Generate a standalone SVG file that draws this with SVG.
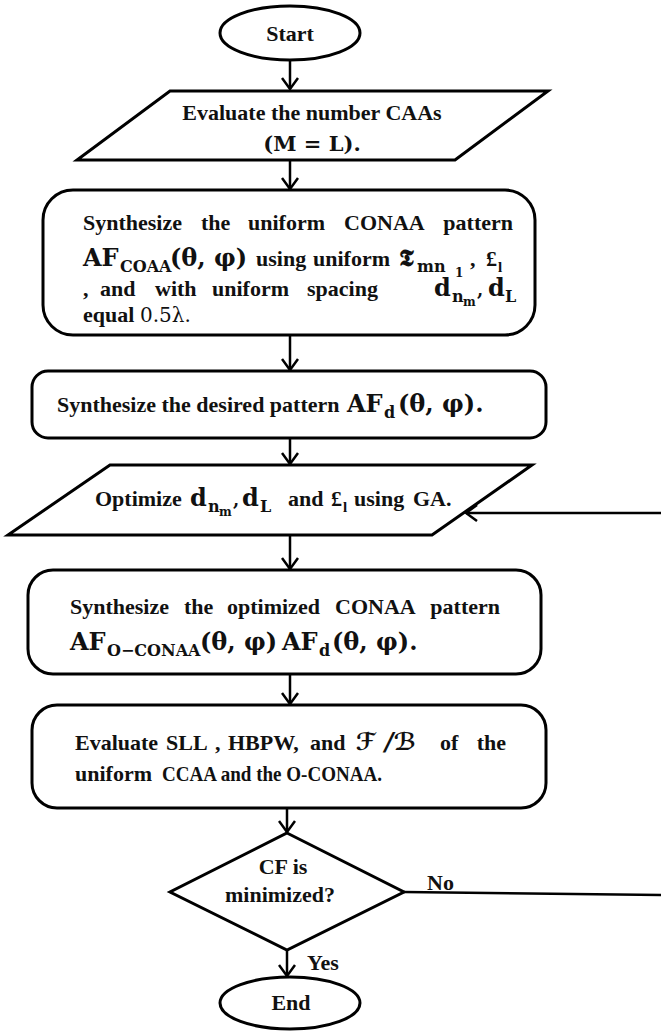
<svg xmlns="http://www.w3.org/2000/svg" width="661" height="1031" viewBox="0 0 661 1031">
<defs>
<style>
.shape{fill:#fff;stroke:#000;stroke-width:3}
.conn{fill:none;stroke:#000;stroke-width:2.5}
.t{font-family:"Liberation Serif",serif;font-weight:bold;font-size:22px;fill:#111}
.m{font-family:"DejaVu Serif","Liberation Serif",serif;font-weight:bold;font-size:24px;fill:#111}
.s{font-size:16px}
.ss{font-size:12px}
.r{font-weight:normal}
.sc{font-family:"DejaVu Sans",sans-serif;font-weight:bold;font-style:italic;font-size:24px;fill:#111}
</style>
<marker id="ah" viewBox="0 0 14 18" refX="12" refY="9" markerWidth="14" markerHeight="18" markerUnits="userSpaceOnUse" orient="auto">
<path d="M1,1 L12,9 L1,17" fill="none" stroke="#000" stroke-width="2.5"/>
</marker>
</defs>

<g id="start">
<ellipse class="shape" cx="290" cy="33" rx="70" ry="27"/>
<text class="t" x="290" y="41" text-anchor="middle">Start</text>
</g>

<g id="eval-number">
<polygon class="shape" points="170,91 548,91 455,160 77,160"/>
<text class="t" x="312" y="120" text-anchor="middle">Evaluate  the number CAAs</text>
<text class="m" x="312" y="151" text-anchor="middle" style="font-size:21px">(M = L).</text>
</g>

<g id="synth-uniform">
<rect class="shape" x="43" y="190" width="492" height="145" rx="30"/>
<text class="t" y="230"><tspan x="83">Synthesize</tspan><tspan x="201">the</tspan><tspan x="248">uniform</tspan><tspan x="344">CONAA</tspan><tspan x="513" text-anchor="end">pattern</tspan></text>
<text class="m" y="266"><tspan x="83">AF</tspan><tspan class="s" x="120" y="272">COAA</tspan><tspan x="170" y="266">(θ, φ)</tspan></text>
<text class="t" y="266"><tspan x="256">using</tspan><tspan x="313">uniform</tspan></text>
<text class="m" y="266"><tspan x="399">𝕿</tspan><tspan class="s" x="417" y="272">mn</tspan></text>
<text class="m ss" x="455" y="277">1</text>
<text class="t" y="266"><tspan x="470">,</tspan><tspan x="486">£</tspan><tspan x="498" y="272" style="font-size:15px">l</tspan></text>
<text class="t" y="296"><tspan x="83">,</tspan><tspan x="100">and</tspan><tspan x="155">with</tspan><tspan x="212">uniform</tspan><tspan x="307">spacing</tspan></text>
<text class="m" y="296"><tspan x="434">d</tspan><tspan class="s" x="452" y="302">n</tspan><tspan class="ss" x="463" y="306">m</tspan><tspan x="477" y="296" style="font-size:18px">,</tspan><tspan x="488" y="296">d</tspan><tspan class="s" x="505" y="302">L</tspan></text>
<text class="t" y="322"><tspan x="83">equal</tspan><tspan class="r" x="140" style="font-family:'DejaVu Serif',serif;font-size:20px">0.5λ.</tspan></text>
</g>

<g id="synth-desired">
<rect class="shape" x="32" y="371" width="514" height="67" rx="16"/>
<text class="t" x="57" y="412">Synthesize the desired pattern</text>
<text class="m" y="412"><tspan x="347">AF</tspan><tspan class="s" x="384" y="418">d</tspan><tspan x="398" y="412">(θ, φ).</tspan></text>
</g>

<g id="optimize">
<polygon class="shape" points="110,465 532,465 432,535 8,535"/>
<text class="t" x="95" y="506">Optimize</text>
<text class="m" y="506"><tspan x="190">d</tspan><tspan class="s" x="208" y="512">n</tspan><tspan class="ss" x="219" y="516">m</tspan><tspan x="233" y="506" style="font-size:18px">,</tspan><tspan x="242" y="506">d</tspan><tspan class="s" x="260" y="512">L</tspan></text>
<text class="t" y="506"><tspan x="288">and</tspan><tspan x="331">£</tspan><tspan x="343" y="512" style="font-size:15px">l</tspan><tspan x="354" y="506">using</tspan><tspan x="413">GA.</tspan></text>
</g>

<g id="synth-optimized">
<rect class="shape" x="28" y="570" width="513" height="104" rx="25"/>
<text class="t" y="614"><tspan x="70">Synthesize</tspan><tspan x="184">the</tspan><tspan x="227">optimized</tspan><tspan x="335">CONAA</tspan><tspan x="500" text-anchor="end">pattern</tspan></text>
<text class="m" y="650"><tspan x="70">AF</tspan><tspan class="s" x="107" y="656">O−CONAA</tspan><tspan x="200" y="650">(θ, φ)</tspan><tspan x="282">AF</tspan><tspan class="s" x="319" y="656">d</tspan><tspan x="332" y="650">(θ, φ).</tspan></text>
</g>

<g id="evaluate-sll">
<rect class="shape" x="32" y="705" width="514" height="103" rx="25"/>
<text class="t" y="750"><tspan x="75">Evaluate</tspan><tspan x="166">SLL</tspan><tspan x="215">,</tspan><tspan x="228">HBPW,</tspan><tspan x="310">and</tspan><tspan x="440">of</tspan><tspan x="506" text-anchor="end">the</tspan></text>
<text class="sc" y="750"><tspan x="356">ℱ</tspan><tspan x="385">/ℬ</tspan></text>
<text class="t" y="781"><tspan x="75">uniform</tspan><tspan x="162" textLength="220" lengthAdjust="spacingAndGlyphs">CCAA and the O-CONAA.</tspan></text>
</g>

<g id="decision">
<polygon class="shape" points="287,833 404,892 287,950 170,892"/>
<text class="t" x="283" y="874" text-anchor="middle">CF is</text>
<text class="t" x="280" y="902" text-anchor="middle">minimized?</text>
</g>

<g id="end">
<ellipse class="shape" cx="290" cy="1003" rx="70" ry="26"/>
<text class="t" x="291" y="1010" text-anchor="middle">End</text>
</g>

<g id="connectors">
<line class="conn" x1="290" y1="60" x2="290" y2="89" marker-end="url(#ah)"/>
<line class="conn" x1="290" y1="160" x2="290" y2="189" marker-end="url(#ah)"/>
<line class="conn" x1="290" y1="335" x2="290" y2="370" marker-end="url(#ah)"/>
<line class="conn" x1="290" y1="438" x2="290" y2="464" marker-end="url(#ah)"/>
<line class="conn" x1="290" y1="535" x2="290" y2="569" marker-end="url(#ah)"/>
<line class="conn" x1="290" y1="674" x2="290" y2="704" marker-end="url(#ah)"/>
<line class="conn" x1="287" y1="808" x2="287" y2="832" marker-end="url(#ah)"/>
<line class="conn" x1="287" y1="950" x2="287" y2="976" marker-end="url(#ah)"/>
<line class="conn" x1="404" y1="892" x2="661" y2="895"/>
<line class="conn" x1="661" y1="513" x2="466" y2="513" marker-end="url(#ah)"/>
<text class="t" x="427" y="890">No</text>
<text class="t" x="307" y="970">Yes</text>
</g>
</svg>
